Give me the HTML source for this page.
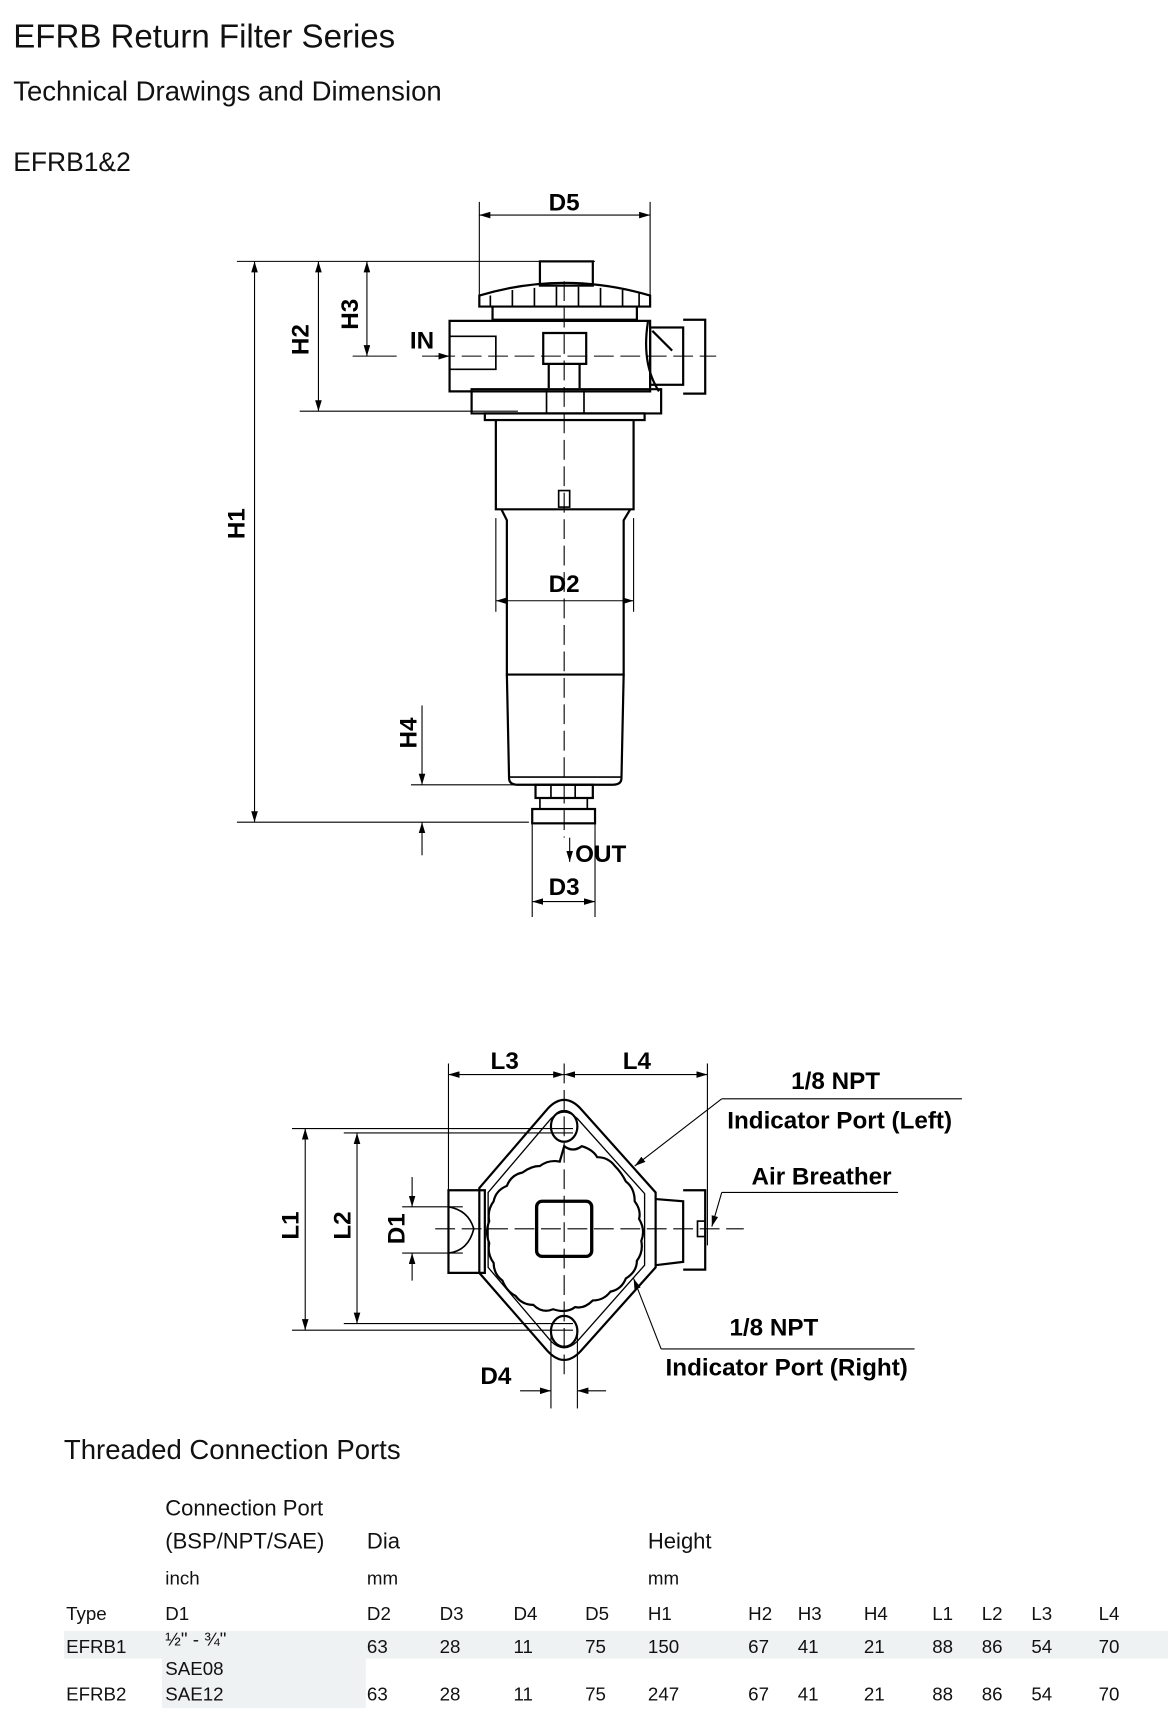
<!DOCTYPE html>
<html><head><meta charset="utf-8"><style>
html,body{margin:0;padding:0;background:#fff;}
svg{display:block;}
.t{font-family:"Liberation Sans",sans-serif;fill:#111;}
.b{font-family:"Liberation Sans",sans-serif;font-weight:bold;fill:#000;font-size:22px;}
.tb{font-family:"Liberation Sans",sans-serif;fill:#111;font-size:17px;}
</style></head><body>
<svg width="1168" height="1726" viewBox="0 0 1060 1566" xmlns="http://www.w3.org/2000/svg">
<defs>
<marker id="a" viewBox="0 0 10 6" refX="10" refY="3" markerWidth="10" markerHeight="6" markerUnits="userSpaceOnUse" orient="auto-start-reverse"><path d="M0,0L10,3L0,6z" fill="#000"/></marker>
</defs>
<text class="t" x="12" y="43" font-size="30">EFRB Return Filter Series</text>
<text class="t" x="12" y="91" font-size="25">Technical Drawings and Dimension</text>
<text class="t" x="12" y="155" font-size="24">EFRB1&amp;2</text>

<g stroke="#000" fill="none" stroke-width="1">
<line x1="435" y1="183" x2="435" y2="270"/><line x1="590" y1="183" x2="590" y2="270"/>
<line x1="435" y1="195" x2="590" y2="195" marker-start="url(#a)" marker-end="url(#a)"/>
<line x1="215" y1="237" x2="540" y2="237"/>
<line x1="231" y1="237" x2="231" y2="746" marker-start="url(#a)" marker-end="url(#a)"/>
<line x1="289" y1="237" x2="289" y2="373" marker-start="url(#a)" marker-end="url(#a)"/>
<line x1="333" y1="237" x2="333" y2="323" marker-start="url(#a)" marker-end="url(#a)"/>
<line x1="272" y1="373" x2="470" y2="373"/>
<line x1="320" y1="323" x2="360" y2="323"/>
<line x1="383" y1="323" x2="408" y2="323" marker-end="url(#a)"/>
<line x1="215" y1="746" x2="480" y2="746"/>
<line x1="373" y1="712" x2="470" y2="712"/>
<line x1="383" y1="640" x2="383" y2="712" marker-end="url(#a)"/>
<line x1="383" y1="746" x2="383" y2="776" marker-start="url(#a)"/>
<line x1="450" y1="470" x2="450" y2="555"/><line x1="575" y1="470" x2="575" y2="555"/>
<line x1="450" y1="545" x2="575" y2="545" marker-start="url(#a)" marker-end="url(#a)"/>
<line x1="517" y1="760" x2="517" y2="782" marker-end="url(#a)"/>
<line x1="483" y1="748" x2="483" y2="832"/><line x1="540" y1="735" x2="540" y2="832"/>
<line x1="483" y1="818" x2="540" y2="818" marker-start="url(#a)" marker-end="url(#a)"/>
<line x1="512" y1="255" x2="512" y2="760" stroke-dasharray="18,6"/>
<line x1="395" y1="323" x2="650" y2="323" stroke-dasharray="18,6"/>
</g>
<g stroke="#000" fill="none" stroke-width="2">
<rect x="490" y="237" width="48" height="22"/>
<path d="M435,268 Q512,245 590,268 L590,278 L435,278z"/>
<path d="M447,278 L447,290 L578,290 L578,278"/>
<path d="M445,268 v10 M465,263 v15 M485,261 v17 M505,260 v18 M525,260 v18 M545,261 v17 M565,263 v15 M580,266 v12" stroke-width="1.5"/>
<path d="M408,291 L590,291 L590,355 L408,355z"/>
<path d="M408,305 L450,305 L450,335 L408,335" stroke-width="1.5"/>
<path d="M493,302 L532,302 L532,330 L493,330z"/>
<path d="M498,330 L498,352 M526,330 L526,352"/>
<path d="M588,292 Q582,330 598,355 M592,300 L610,318"/>
<rect x="590" y="297" width="30" height="52"/>
<path d="M620,290 L640,290 L640,357 L620,357"/>
<path d="M428,353 L600,353 L600,375 L428,375z"/>
<path d="M496,353 L496,375 M530,353 L530,375" stroke-width="1.5"/>
<rect x="440" y="375" width="145" height="6"/>
<path d="M450,381 L450,462 L575,462 L575,381"/>
<path d="M455,462 L460,472 L460,612 L566,612 L566,472 L572,462"/>
<path d="M460,612 L462,706 Q462,712 470,712 L556,712 Q564,712 564,706 L566,612"/>
<path d="M462,705 L564,705" stroke-width="1.5"/>
<rect x="486" y="712" width="52" height="12"/>
<rect x="483" y="734" width="57" height="13"/>
<path d="M490,724 v10 M533,724 v10 M500,712 v12 M522,712 v12" stroke-width="1.5"/>
<rect x="507" y="445" width="10" height="15" stroke-width="1.5"/>
</g>
<text class="b" x="512" y="191" text-anchor="middle">D5</text>
<text class="b" x="512" y="537" text-anchor="middle">D2</text>
<text class="b" x="512" y="812" text-anchor="middle">D3</text>
<text class="b" x="522" y="782">OUT</text>
<text class="b" x="372" y="316">IN</text>
<text class="b" transform="translate(222,475) rotate(-90)" text-anchor="middle">H1</text>
<text class="b" transform="translate(280,308) rotate(-90)" text-anchor="middle">H2</text>
<text class="b" transform="translate(325,285) rotate(-90)" text-anchor="middle">H3</text>
<text class="b" transform="translate(378,665) rotate(-90)" text-anchor="middle">H4</text>

<g stroke="#000" fill="none" stroke-width="1">
<line x1="407" y1="965" x2="407" y2="1095"/><line x1="642" y1="965" x2="642" y2="1130"/>
<line x1="407" y1="975" x2="512" y2="975" marker-start="url(#a)" marker-end="url(#a)"/>
<line x1="512" y1="975" x2="642" y2="975" marker-start="url(#a)" marker-end="url(#a)"/>
<line x1="512" y1="965" x2="512" y2="1250" stroke-dasharray="18,6"/>
<line x1="395" y1="1115" x2="675" y2="1115" stroke-dasharray="18,6"/>
<line x1="265" y1="1024" x2="520" y2="1024"/><line x1="265" y1="1207" x2="520" y2="1207"/>
<line x1="312" y1="1028" x2="520" y2="1028"/><line x1="312" y1="1201" x2="520" y2="1201"/>
<line x1="277" y1="1024" x2="277" y2="1207" marker-start="url(#a)" marker-end="url(#a)"/>
<line x1="324" y1="1028" x2="324" y2="1201" marker-start="url(#a)" marker-end="url(#a)"/>
<line x1="365" y1="1095" x2="420" y2="1095"/><line x1="365" y1="1137" x2="420" y2="1137"/>
<line x1="374" y1="1068" x2="374" y2="1095" marker-end="url(#a)"/>
<line x1="374" y1="1137" x2="374" y2="1162" marker-start="url(#a)"/>
<line x1="500" y1="1210" x2="500" y2="1278"/><line x1="524" y1="1210" x2="524" y2="1278"/>
<line x1="472" y1="1262" x2="500" y2="1262" marker-end="url(#a)"/>
<line x1="524" y1="1262" x2="550" y2="1262" marker-start="url(#a)"/>
<line x1="655" y1="997" x2="873" y2="997"/>
<line x1="655" y1="997" x2="576" y2="1058" marker-end="url(#a)"/>
<line x1="655" y1="1082" x2="815" y2="1082"/>
<line x1="655" y1="1082" x2="646" y2="1113" marker-end="url(#a)"/>
<line x1="600" y1="1224" x2="830" y2="1224"/>
<line x1="600" y1="1224" x2="575" y2="1160" marker-end="url(#a)"/>
</g>
<g stroke="#000" fill="none" stroke-width="2">
<path d="M497,1006 Q512,990 527,1006 L595,1082 L595,1150 L527,1226 Q512,1242 497,1226 L435,1155 L435,1078z"/>
<path d="M500,1015 Q512,1003 524,1015 L585,1083 L585,1148 L524,1217 Q512,1229 500,1217 L443,1150 L443,1082z" stroke-width="1.2"/>
<ellipse cx="512" cy="1022" rx="12" ry="14"/><ellipse cx="512" cy="1208" rx="12" ry="14"/>
<path d="M512,1040 q8,6 16,0 q10,3 14,10 q10,0 16,8 q6,6 10,14 q8,6 8,18 q6,8 4,16 q6,10 2,20 q2,10 -4,18 q0,10 -10,16 q-4,10 -14,12 q-6,8 -16,8 q-8,8 -16,6 q-8,6 -20,2 q-10,4 -18,-4 q-10,0 -16,-8 q-8,-4 -12,-14 q-8,-6 -8,-16 q-6,-8 -4,-18 q-4,-10 0,-20 q-2,-10 4,-18 q2,-10 12,-14 q4,-10 14,-12 q8,-6 16,-6 q8,-6 18,-4z"/>
<rect x="487" y="1090" width="50" height="50" rx="5" stroke-width="3"/>
<path d="M407,1080 L440,1080 L440,1155 L407,1155z"/>
<path d="M407,1095 Q425,1098 430,1115 Q425,1135 407,1137" stroke-width="1.5"/>
<path d="M595,1088 L620,1090 L620,1145 L595,1148 M620,1080 L640,1080 L640,1152 L620,1152"/>
<rect x="633" y="1108" width="7" height="14" stroke-width="1.5"/>
</g>
<text class="b" x="458" y="970" text-anchor="middle">L3</text>
<text class="b" x="578" y="970" text-anchor="middle">L4</text>
<text class="b" x="450" y="1256" text-anchor="middle">D4</text>
<text class="b" transform="translate(271,1112) rotate(-90)" text-anchor="middle">L1</text>
<text class="b" transform="translate(318,1112) rotate(-90)" text-anchor="middle">L2</text>
<text class="b" transform="translate(367,1115) rotate(-90)" text-anchor="middle">D1</text>
<text class="b" x="718" y="988">1/8 NPT</text>
<text class="b" x="660" y="1024">Indicator Port (Left)</text>
<text class="b" x="682" y="1075">Air Breather</text>
<text class="b" x="662" y="1212">1/8 NPT</text>
<text class="b" x="604" y="1248">Indicator Port (Right)</text>

<text class="t" x="58" y="1324" font-size="25">Threaded Connection Ports</text>
<rect x="58" y="1480" width="1002" height="25" fill="#eef2f2"/>
<rect x="147" y="1505" width="185" height="45" fill="#eef2f2"/>
<g class="tb">
<text x="150" y="1375" font-size="20">Connection Port</text>
<text x="150" y="1405" font-size="20">(BSP/NPT/SAE)</text>
<text x="333" y="1405" font-size="20">Dia</text>
<text x="588" y="1405" font-size="20">Height</text>
<text x="150" y="1438">inch</text><text x="333" y="1438">mm</text><text x="588" y="1438">mm</text>
<text x="60" y="1470">Type</text><text x="150" y="1470">D1</text><text x="333" y="1470">D2</text><text x="399" y="1470">D3</text><text x="466" y="1470">D4</text><text x="531" y="1470">D5</text><text x="588" y="1470">H1</text><text x="679" y="1470">H2</text><text x="724" y="1470">H3</text><text x="784" y="1470">H4</text><text x="846" y="1470">L1</text><text x="891" y="1470">L2</text><text x="936" y="1470">L3</text><text x="997" y="1470">L4</text>
<text x="60" y="1500">EFRB1</text><text x="150" y="1493">½" - ¾"</text><text x="333" y="1500">63</text><text x="399" y="1500">28</text><text x="466" y="1500">11</text><text x="531" y="1500">75</text><text x="588" y="1500">150</text><text x="679" y="1500">67</text><text x="724" y="1500">41</text><text x="784" y="1500">21</text><text x="846" y="1500">88</text><text x="891" y="1500">86</text><text x="936" y="1500">54</text><text x="997" y="1500">70</text>
<text x="150" y="1520">SAE08</text>
<text x="60" y="1543">EFRB2</text><text x="150" y="1543">SAE12</text><text x="333" y="1543">63</text><text x="399" y="1543">28</text><text x="466" y="1543">11</text><text x="531" y="1543">75</text><text x="588" y="1543">247</text><text x="679" y="1543">67</text><text x="724" y="1543">41</text><text x="784" y="1543">21</text><text x="846" y="1543">88</text><text x="891" y="1543">86</text><text x="936" y="1543">54</text><text x="997" y="1543">70</text>
</g>
</svg>
</body></html>
